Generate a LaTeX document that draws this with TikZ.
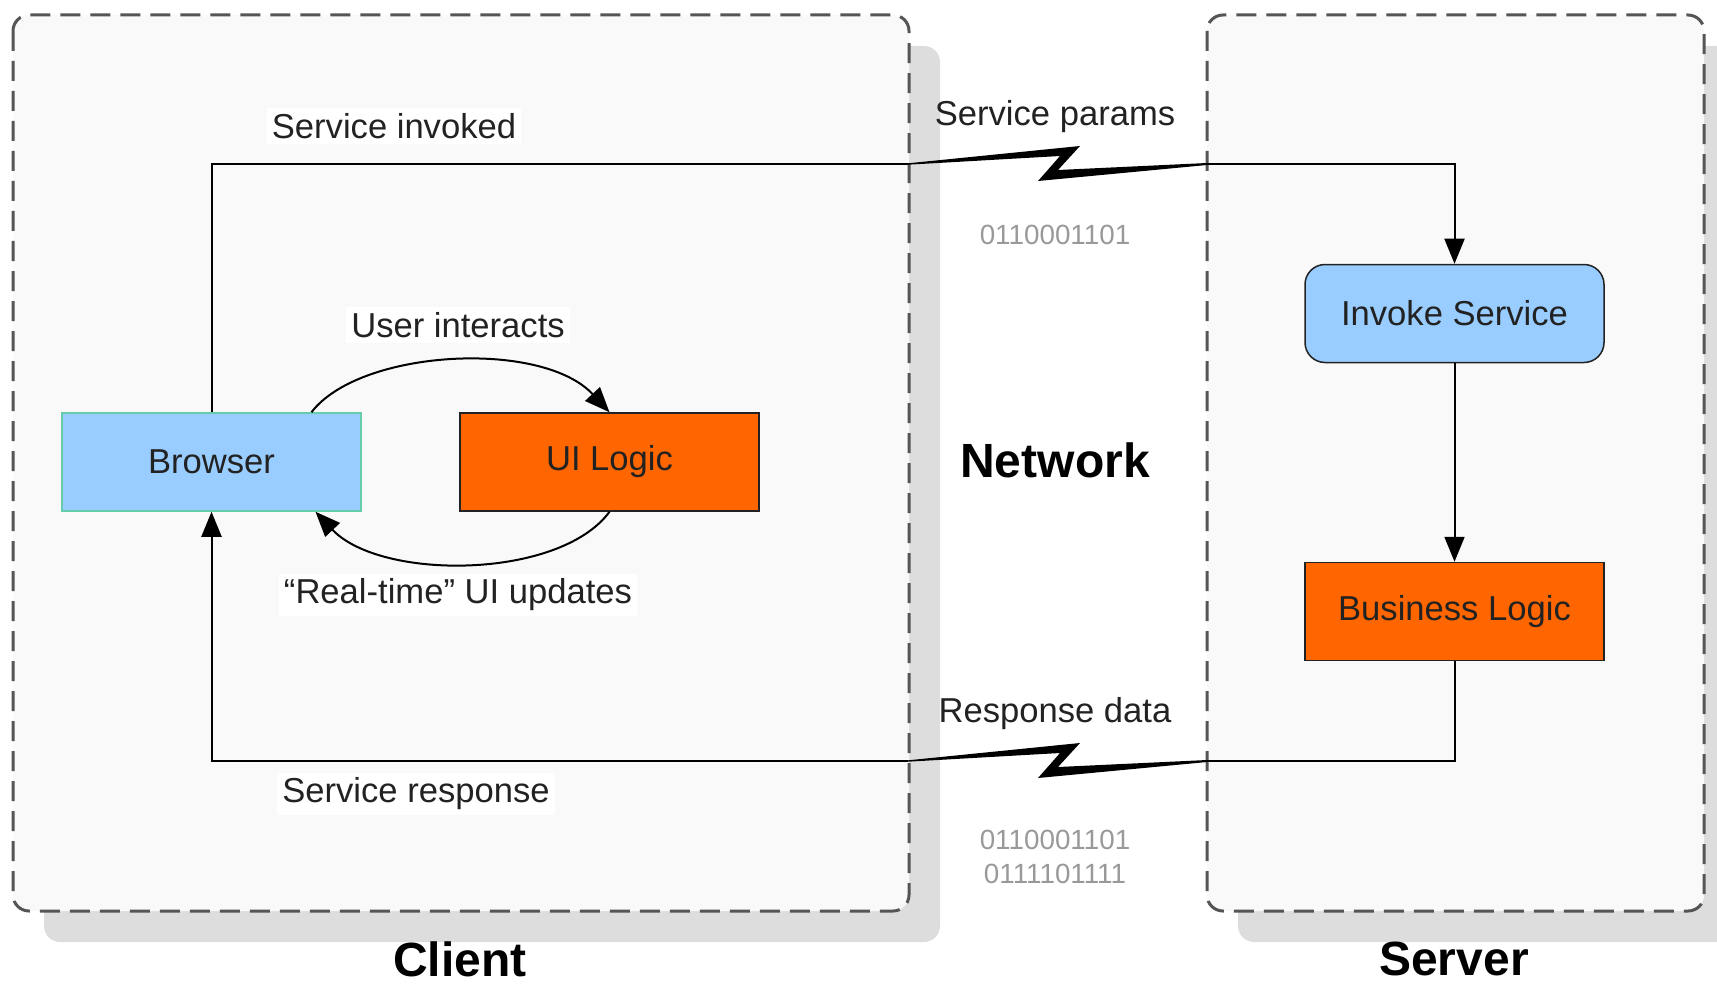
\documentclass[tikz,border=0pt]{standalone}
\usepackage{fontspec}
\setmainfont{Liberation Sans}
\usetikzlibrary{positioning,arrows.meta}
\definecolor{csPanel}{HTML}{F9F9F9}
\definecolor{csShadow}{HTML}{DDDDDD}
\definecolor{csDash}{HTML}{555555}
\definecolor{csBlue}{HTML}{99CCFF}
\definecolor{csOrange}{HTML}{FF6600}
\definecolor{csTeal}{HTML}{66CCAA}
\definecolor{csInk}{HTML}{222222}
\definecolor{csBits}{HTML}{999999}
\tikzset{
  netbolt/.pic={
    \fill[black] (0,-0.7) -- (172,-18) -- (150,6) -- (299,-1) -- (299,1)
      -- (130,17) -- (152,-8) -- (0,0.7) -- cycle;
  }
}

\begin{document}
\begin{tikzpicture}[x=0.5pt, y=-0.5pt, line width=1pt, draw=black,
    >={Triangle[length=12.5pt,width=10pt]},
    panel/.style={draw=csDash, line width=1.5pt, dash pattern=on 10pt off 5pt, rounded corners=8pt, fill=csPanel},
    box/.style={draw=csInk, line width=0.75pt, minimum width=149.5pt, minimum height=49pt, text=csInk, font=\fontsize{17.3}{20}\selectfont},
    tag/.style={inner sep=2.5pt, text=csInk, font=\fontsize{17.3}{20}\selectfont},
    bits/.style={inner sep=0pt, text=csBits, align=center, font=\fontsize{13.9}{17}\selectfont},
    title/.style={inner sep=0pt, text=black, font=\fontsize{24}{28}\selectfont\bfseries}]
    \useasboundingbox (0,0) rectangle (1717,984);
    \fill[csShadow, rounded corners=8pt] (44,46) rectangle (940,942);
    \fill[csShadow, rounded corners=8pt] (1238,46) rectangle (1735,942);
    \draw[panel] (13,15) rectangle (909,911);
    \draw[panel] (1207,15) rectangle (1704,911);

    \node[box, fill=csBlue, draw=csTeal] (browser) at (211.5,462) {Browser};
    \node[box, fill=csOrange] (uilogic) at (609.5,462) {UI Logic};
    \node[box, fill=csBlue, rounded corners=10pt] (invoke) at (1454.5,313.5) {Invoke Service};
    \node[box, fill=csOrange] (business) at (1454.5,611.5) {Business Logic};

    \coordinate (sendL) at (908,164);
    \coordinate (sendR) at (1207,164);
    \coordinate (backL) at (908,761);
    \coordinate (backR) at (1207,761);
    \draw (browser.north) |- (sendL);
    \pic at (sendL) {netbolt};
    \draw[->] (sendR) -| (invoke.north);
    \draw[->] (invoke) -- (business);
    \draw (business.south) |- (backR);
    \pic at (backL) {netbolt};
    \draw[->] (backL) -| (browser.south);
    \draw[->] ([xshift=50pt]browser.north) .. controls +(48,-63) and +(-68,-73) .. (uilogic.north);
    \draw[->] (uilogic.south) .. controls +(-50,68) and +(65,69) .. ([xshift=52pt]browser.south);

    \node[tag, fill=white] (invokedlbl) at (394,126) {Service invoked};
    \node[tag] (paramslbl) at (1055,117) {Service params};
    \node[bits] (bitsup) at (1055,235) {0110001101};
    \node[tag, fill=white] (interactlbl) at (458,325) {User interacts};
    \node[tag, fill=white] (updatelbl) at (458,595) {“Real-time” UI updates};
    \node[title] (netlbl) at (1055,460) {Network};
    \node[tag] (datalbl) at (1055,714) {Response data};
    \node[tag, fill=white] (responselbl) at (416,794) {Service response};
    \node[bits] (bitsdown) at (1055,857) {0110001101\\0111101111};
    \node[title] (clientlbl) at (460,959) {Client};
    \node[title] (serverlbl) at (1454,959) {Server};
\end{tikzpicture}
\end{document}
